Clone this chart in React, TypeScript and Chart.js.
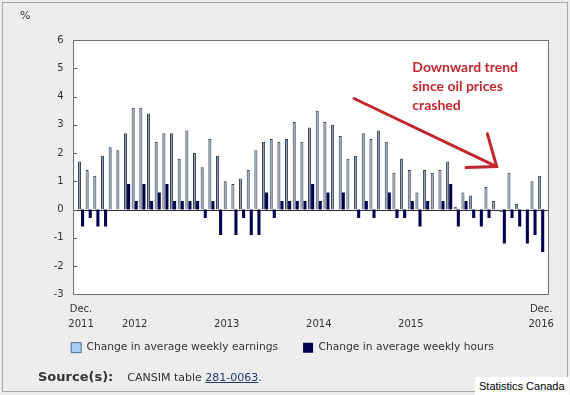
import React, { useEffect, useRef } from 'react';
import { Chart, registerables } from 'chart.js';

Chart.register(...registerables);

// Categories: monthly, December 2011 to December 2016
const months = [
  'Dec 2011',
  'Jan 2012', 'Feb 2012', 'Mar 2012', 'Apr 2012', 'May 2012', 'Jun 2012', 'Jul 2012', 'Aug 2012', 'Sep 2012', 'Oct 2012', 'Nov 2012', 'Dec 2012',
  'Jan 2013', 'Feb 2013', 'Mar 2013', 'Apr 2013', 'May 2013', 'Jun 2013', 'Jul 2013', 'Aug 2013', 'Sep 2013', 'Oct 2013', 'Nov 2013', 'Dec 2013',
  'Jan 2014', 'Feb 2014', 'Mar 2014', 'Apr 2014', 'May 2014', 'Jun 2014', 'Jul 2014', 'Aug 2014', 'Sep 2014', 'Oct 2014', 'Nov 2014', 'Dec 2014',
  'Jan 2015', 'Feb 2015', 'Mar 2015', 'Apr 2015', 'May 2015', 'Jun 2015', 'Jul 2015', 'Aug 2015', 'Sep 2015', 'Oct 2015', 'Nov 2015', 'Dec 2015',
  'Jan 2016', 'Feb 2016', 'Mar 2016', 'Apr 2016', 'May 2016', 'Jun 2016', 'Jul 2016', 'Aug 2016', 'Sep 2016', 'Oct 2016', 'Nov 2016', 'Dec 2016',
];

// Change in average weekly earnings (%)
const earnings = [
  1.7, 1.4, 1.2, 1.9, 2.2, 2.1, 2.7, 3.6, 3.6, 3.4, 2.4, 2.7, 2.7,
  1.8, 2.8, 2.0, 1.5, 2.5, 1.9, 1.0, 0.9, 1.1, 1.4, 2.1, 2.4,
  2.5, 2.4, 2.5, 3.1, 2.4, 2.9, 3.5, 3.1, 3.0, 2.6, 1.8, 1.9,
  2.7, 2.5, 2.8, 2.4, 1.3, 1.8, 1.4, 0.6, 1.4, 1.3, 1.4, 1.7,
  0.1, 0.6, 0.5, 0, 0.8, 0.3, -0.1, 1.3, 0.2, 0, 1.0, 1.2,
];

// Change in average weekly hours (%)
const hours = [
  -0.6, -0.3, -0.6, -0.6, 0, 0, 0.9, 0.3, 0.9, 0.3, 0.6, 0.9, 0.3,
  0.3, 0.3, 0.3, -0.3, 0.3, -0.9, 0, -0.9, -0.3, -0.9, -0.9, 0.6,
  -0.3, 0.3, 0.3, 0.3, 0.3, 0.9, 0.3, 0.6, 0, 0.6, 0, -0.3,
  0.3, -0.3, 0, 0.6, -0.3, -0.3, 0.3, -0.6, 0.3, 0, 0.3, 0.9,
  -0.6, 0.3, -0.3, -0.6, -0.3, 0, -1.2, -0.3, -0.6, -1.2, -0.9, -1.5,
];

// X tick labels (category index -> lines)
const xTickText: Record<number, string[]> = {
  0: ['Dec.', '2011'],
  7: ['', '2012'],
  19: ['', '2013'],
  31: ['', '2014'],
  43: ['', '2015'],
  60: ['Dec.', '2016'],
};

const yMin = -3;
const yMax = 6;

const seriesNames = ['Change in average weekly earnings', 'Change in average weekly hours'];

// Annotation (in data coordinates: category index, value)
const annotationLines = ['Downward trend', 'since oil prices', 'crashed'];
const annotationAnchor = { x: 43.2, y: 5.02 };
const arrowFrom = { x: 35.6, y: 3.93 };
const arrowTo = { x: 54.2, y: 1.52 };

const FONT = '"DejaVu Sans", Verdana, sans-serif';
const RED = '#c1272d';

const framePlugin = {
  id: 'frame',
  afterLayout(chart: any) {
    // let the two-line x tick labels extend below the (short) x axis box
    const xs = chart.scales.x;
    xs.bottom = xs.top + 40;
  },
  beforeDatasetsDraw(chart: any) {
    const { ctx, chartArea: a, scales } = chart;
    const y = scales.y;
    const L = Math.round(a.left - 4);
    const R = Math.round(a.right + 3);
    const T = Math.round(a.top);
    const B = Math.round(a.bottom);
    ctx.save();
    ctx.fillStyle = '#ffffff';
    ctx.fillRect(L, T, R - L, B - T);
    ctx.lineWidth = 1;
    // zero line
    const y0 = Math.round(y.getPixelForValue(0)) + 0.5;
    ctx.strokeStyle = '#333333';
    ctx.beginPath();
    ctx.moveTo(L, y0);
    ctx.lineTo(R, y0);
    ctx.stroke();
    // inner ticks
    ctx.strokeStyle = '#555555';
    ctx.beginPath();
    y.ticks.forEach((t: any) => {
      const py = Math.round(y.getPixelForValue(t.value)) + 0.5;
      ctx.moveTo(L, py);
      ctx.lineTo(L + 4, py);
    });
    ctx.stroke();
    // frame
    ctx.strokeStyle = '#707070';
    ctx.strokeRect(L + 0.5, T + 0.5, R - L, B - T);
    ctx.restore();
  },
  afterDatasetsDraw(chart: any) {
    const { ctx, scales } = chart;
    const xs = scales.x;
    const ys = scales.y;
    const x1 = xs.getPixelForValue(arrowFrom.x);
    const y1 = ys.getPixelForValue(arrowFrom.y);
    const x2 = xs.getPixelForValue(arrowTo.x);
    const y2 = ys.getPixelForValue(arrowTo.y);
    ctx.save();
    ctx.strokeStyle = RED;
    ctx.lineWidth = 3;
    ctx.lineCap = 'round';
    ctx.beginPath();
    ctx.moveTo(x1, y1);
    ctx.lineTo(x2, y2);
    ctx.moveTo(x2 - 9.3, y2 - 32.7);
    ctx.lineTo(x2, y2);
    ctx.lineTo(x2 - 30.7, y2 + 1);
    ctx.stroke();
    // text
    ctx.fillStyle = RED;
    ctx.font = 'bold 14px Lato, "Open Sans", sans-serif';
    ctx.textBaseline = 'middle';
    ctx.textAlign = 'left';
    const tx = xs.getPixelForValue(annotationAnchor.x);
    const ty = ys.getPixelForValue(annotationAnchor.y);
    annotationLines.forEach((line, i) => {
      ctx.fillText(line, tx, ty + i * 19);
    });
    ctx.restore();
  },
};

export default function App() {
  const ref = useRef<HTMLCanvasElement>(null);

  useEffect(() => {
    document.body.style.margin = '0';
    const canvas = ref.current;
    if (!canvas) return;
    const chart = new Chart(canvas, {
      type: 'bar',
      data: {
        labels: months,
        datasets: [
          {
            label: seriesNames[0],
            data: earnings,
            backgroundColor: '#8aa3bb',
            borderColor: '#36404b',
            borderWidth: 1,
            barPercentage: 1,
            categoryPercentage: 0.8,
          },
          {
            label: seriesNames[1],
            data: hours,
            backgroundColor: '#000050',
            borderColor: '#000050',
            borderWidth: 0,
            barPercentage: 1,
            categoryPercentage: 0.8,
          },
        ],
      },
      options: {
        responsive: false,
        devicePixelRatio: 1,
        animation: false,
        events: [],
        layout: { padding: { left: 20, right: 25, top: 4, bottom: 32 } },
        scales: {
          x: {
            grid: { display: false, drawTicks: false },
            border: { display: false },
            afterFit: (s: any) => { s.height = 23; },
            ticks: {
              autoSkip: false,
              maxRotation: 0,
              minRotation: 0,
              padding: 7.5,
              color: '#333333',
              font: { family: FONT, size: 10, lineHeight: 1.5 },
              callback: (_v: any, i: number) => xTickText[i] ?? '',
            },
          },
          y: {
            min: yMin,
            max: yMax,
            grid: { display: false, drawTicks: false },
            border: { display: false },
            afterFit: (s: any) => { s.width = 57.2; },
            ticks: {
              stepSize: 1,
              padding: 13.5,
              color: '#333333',
              font: { family: FONT, size: 10 },
            },
          },
        },
        plugins: {
          tooltip: { enabled: false },
          title: {
            display: true,
            text: '%',
            align: 'start',
            color: '#333333',
            font: { family: FONT, size: 11, weight: 'normal' },
            padding: { top: 6, bottom: 16.8 },
          },
          legend: {
            display: true,
            position: 'bottom',
            labels: {
              boxWidth: 10,
              boxHeight: 10,
              padding: 25,
              color: '#333333',
              font: { family: FONT, size: 10.7 },
              generateLabels: (c: any) => {
                const items = Chart.defaults.plugins.legend.labels.generateLabels(c);
                if (items[0]) {
                  items[0].fillStyle = '#a8cff2';
                  items[0].strokeStyle = '#4d6f92';
                  items[0].lineWidth = 1;
                }
                return items;
              },
            },
          },
        },
      },
      plugins: [framePlugin],
    } as any);
    return () => chart.destroy();
  }, []);

  return (
    <div style={{ position: 'relative', width: 570, height: 395, background: '#ededed', overflow: 'hidden' }}>
      <div style={{ position: 'absolute', left: 2, top: 2, width: 564, height: 388, border: '1px solid #a8a8a8' }} />
      <canvas ref={ref} width={570} height={395} style={{ position: 'absolute', left: 0, top: 0 }} />
      <div style={{ position: 'absolute', left: 38, top: 369, fontFamily: FONT, fontSize: 11, lineHeight: '16px', color: '#333', whiteSpace: 'nowrap' }}>
        <span style={{ fontWeight: 'bold', fontSize: 13, marginRight: 14 }}>Source(s):</span>
        <span>CANSIM table </span>
        <span style={{ color: '#1f3a6e', textDecoration: 'underline' }}>281-0063</span>
        <span>.</span>
      </div>
      <div style={{ position: 'absolute', left: 475, top: 377, padding: '2px 4px', background: '#ffffff', fontFamily: '"Liberation Sans", Arial, sans-serif', fontSize: 11, lineHeight: '14px', color: '#000', whiteSpace: 'nowrap' }}>
        Statistics Canada
      </div>
    </div>
  );
}
